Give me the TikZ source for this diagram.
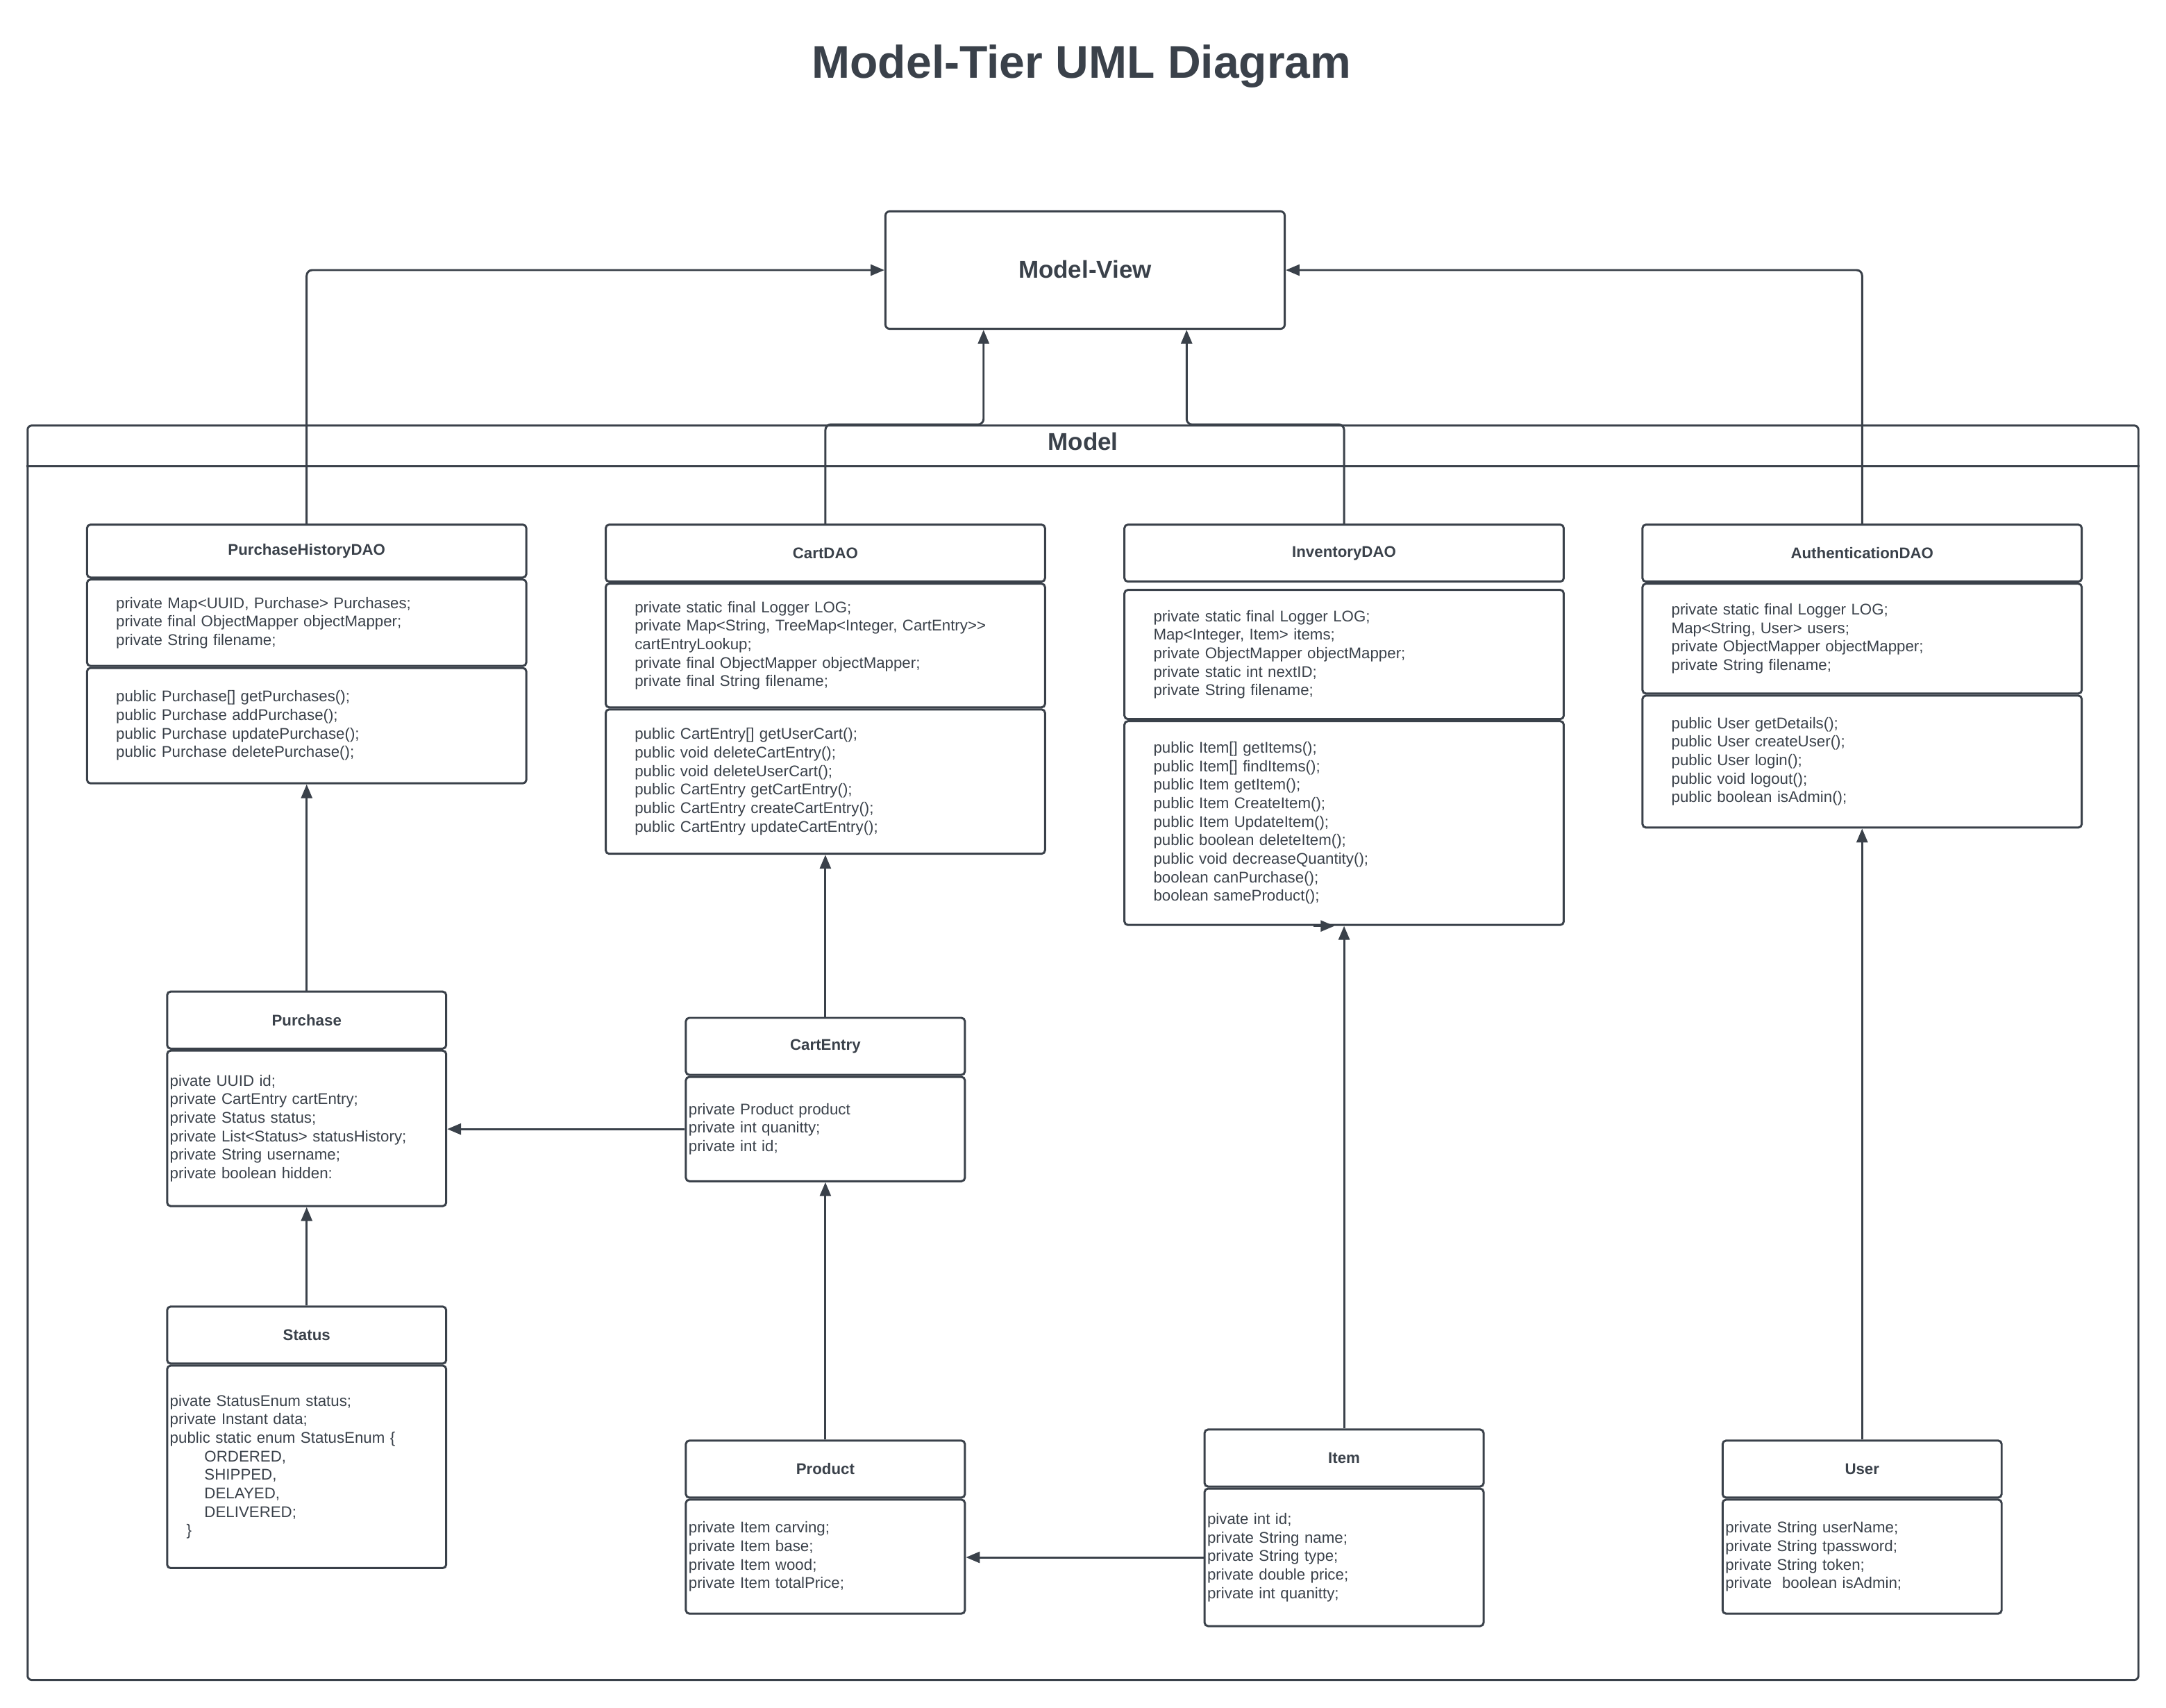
\documentclass[tikz,border=0pt]{standalone}
\usepackage{fontspec}
\setmainfont{Liberation Sans}
\usetikzlibrary{positioning,arrows.meta}
\definecolor{ink}{RGB}{58,65,74}
\newcommand{\umlfont}{\fontsize{11.2}{13.4}\selectfont}

\begin{document}
\begin{tikzpicture}[x=1pt, y=-1pt, line width=1.5pt, text=ink,
  dhead/.style={draw=ink, rounded corners=2.5pt, minimum width=318pt, minimum height=41.25pt, inner sep=0pt, font=\bfseries\umlfont},
  chead/.style={dhead, minimum width=202pt},
  dbody/.style={draw=ink, rounded corners=2.5pt, text width=276pt, inner xsep=21pt, inner ysep=0pt, align=left, font=\umlfont},
  cbody/.style={dbody, text width=198pt, inner xsep=2pt},
  conn/.style={draw=ink, line width=1.5pt, rounded corners=4pt, -{Triangle[length=10pt,width=8pt]}}]

  \useasboundingbox (0,0) rectangle (1568,1236);

  % Title
  \node[font=\bfseries\fontsize{33.2}{40}\selectfont] (title) at (783,48) {Model-Tier UML Diagram};

  % Model-View
  \node[draw=ink, rounded corners=3pt, minimum width=289pt, minimum height=85pt, font=\bfseries\fontsize{17.6}{21}\selectfont] (mview) at (785.5,195.5) {\raisebox{1.5pt}{Model-View}};
  \coordinate (mvL) at ([xshift=-73.5pt]mview.south);
  \coordinate (mvR) at ([xshift=73.5pt]mview.south);

  % Model package
  \node[draw=ink, rounded corners=3pt, minimum width=1528pt, minimum height=908pt, inner sep=0pt] (model) at (784,762) {};
  \draw[ink] ([yshift=-30pt]model.north west) -- ([yshift=-30pt]model.north east);
  \node[font=\bfseries\fontsize{17.6}{21}\selectfont] (modelname) at ([yshift=-12.5pt]model.north) {Model};

  % DAO row
  \node[dhead, anchor=north, minimum height=38.25pt] (phd) at (222,379) {PurchaseHistoryDAO};
  \node[dbody, below=0pt of phd, minimum height=62.5pt] (phdA) {private Map<UUID, Purchase> Purchases;\\private final ObjectMapper objectMapper;\\private String filename;};
  \node[dbody, below=0pt of phdA, minimum height=83.5pt] (phdM) {public Purchase[] getPurchases();\\public Purchase addPurchase();\\public Purchase updatePurchase();\\public Purchase deletePurchase();};

  \node[dhead, anchor=north] (cart) at (597.5,379) {CartDAO};
  \node[dbody, below=0pt of cart, minimum height=89.5pt] (cartA) {private static final Logger LOG;\\private Map<String, TreeMap<Integer, CartEntry>{}>\\cartEntryLookup;\\private final ObjectMapper objectMapper;\\private final String filename;};
  \node[dbody, below=0pt of cartA, minimum height=104.5pt] (cartM) {public CartEntry[] getUserCart();\\public void deleteCartEntry();\\public void deleteUserCart();\\public CartEntry getCartEntry();\\public CartEntry createCartEntry();\\public CartEntry updateCartEntry();};

  \node[dhead, anchor=north] (inv) at (973,379) {InventoryDAO};
  \node[dbody, below=4.5pt of inv, minimum height=93.5pt] (invA) {private static final Logger LOG;\\Map<Integer, Item> items;\\private ObjectMapper objectMapper;\\private static int nextID;\\private String filename;};
  \node[dbody, below=0pt of invA, minimum height=147.5pt] (invM) {public Item[] getItems();\\public Item[] findItems();\\public Item getItem();\\public Item CreateItem();\\public Item UpdateItem();\\public boolean deleteItem();\\public void decreaseQuantity();\\boolean canPurchase();\\boolean sameProduct();};

  \node[dhead, anchor=north] (auth) at (1348,379) {AuthenticationDAO};
  \node[dbody, below=0pt of auth, minimum height=79.5pt] (authA) {private static final Logger LOG;\\Map<String, User> users;\\private ObjectMapper objectMapper;\\private String filename;};
  \node[dbody, below=0pt of authA, minimum height=95.5pt] (authM) {public User getDetails();\\public User createUser();\\public User login();\\public void logout();\\public boolean isAdmin();};

  % Entity classes
  \node[chead, anchor=north] (purch) at (222,717) {Purchase};
  \node[cbody, below=0pt of purch, minimum height=112.5pt] (purchA) {pivate UUID id;\\private CartEntry cartEntry;\\private Status status;\\private List<Status> statusHistory;\\private String username;\\private boolean hidden:};

  \node[chead, anchor=north] (centry) at (597.5,736) {CartEntry};
  \node[cbody, below=0pt of centry, minimum height=75.5pt] (centryA) {private Product product\\private int quanitty;\\private int id;};

  \node[chead, anchor=north] (status) at (222,945) {Status};
  \node[cbody, below=0pt of status, minimum height=146.5pt] (statusA) {pivate StatusEnum status;\\private Instant data;\\public static enum StatusEnum \{\\\hspace*{25pt}ORDERED,\\\hspace*{25pt}SHIPPED,\\\hspace*{25pt}DELAYED,\\\hspace*{25pt}DELIVERED;\\\hspace*{12pt}\}};

  \node[chead, anchor=north] (prod) at (597.5,1042) {Product};
  \node[cbody, below=0pt of prod, minimum height=82.5pt] (prodA) {private Item carving;\\private Item base;\\private Item wood;\\private Item totalPrice;};

  \node[chead, anchor=north] (item) at (973,1034) {Item};
  \node[cbody, below=0pt of item, minimum height=99.5pt] (itemA) {pivate int id;\\private String name;\\private String type;\\private double price;\\private int quanitty;};

  \node[chead, anchor=north] (user) at (1348,1042) {User};
  \node[cbody, below=0pt of user, minimum height=82.5pt] (userA) {private String userName;\\private String tpassword;\\private String token;\\private\ \ boolean isAdmin;};

  % DAO to Model-View
  \draw[conn] (phd.north) |- (mview.west);
  \draw[conn] (cart.north) |- (mvL |- model.north) -- (mvL);
  \draw[conn] (inv.north) |- (mvR |- model.north) -- (mvR);
  \draw[conn] (auth.north) |- (mview.east);

  % inside the model
  \draw[conn] (purch.north) -- (phdM.south);
  \draw[conn] (status.north) -- (purchA.south);
  \draw[conn] (centryA.west) -- (centryA.west -| purchA.east);
  \draw[conn] (centry.north) -- (cartM.south);
  \draw[conn] (prod.north) -- (centryA.south);
  \draw[conn] (itemA.west) -- (itemA.west -| prodA.east);
  \draw[conn] (item.north) -- (invM.south);
  \draw[conn] (user.north) -- (authM.south);
  \draw[conn] ([xshift=-22pt]invM.south) -- ([xshift=-7pt]invM.south);

\end{tikzpicture}
\end{document}
